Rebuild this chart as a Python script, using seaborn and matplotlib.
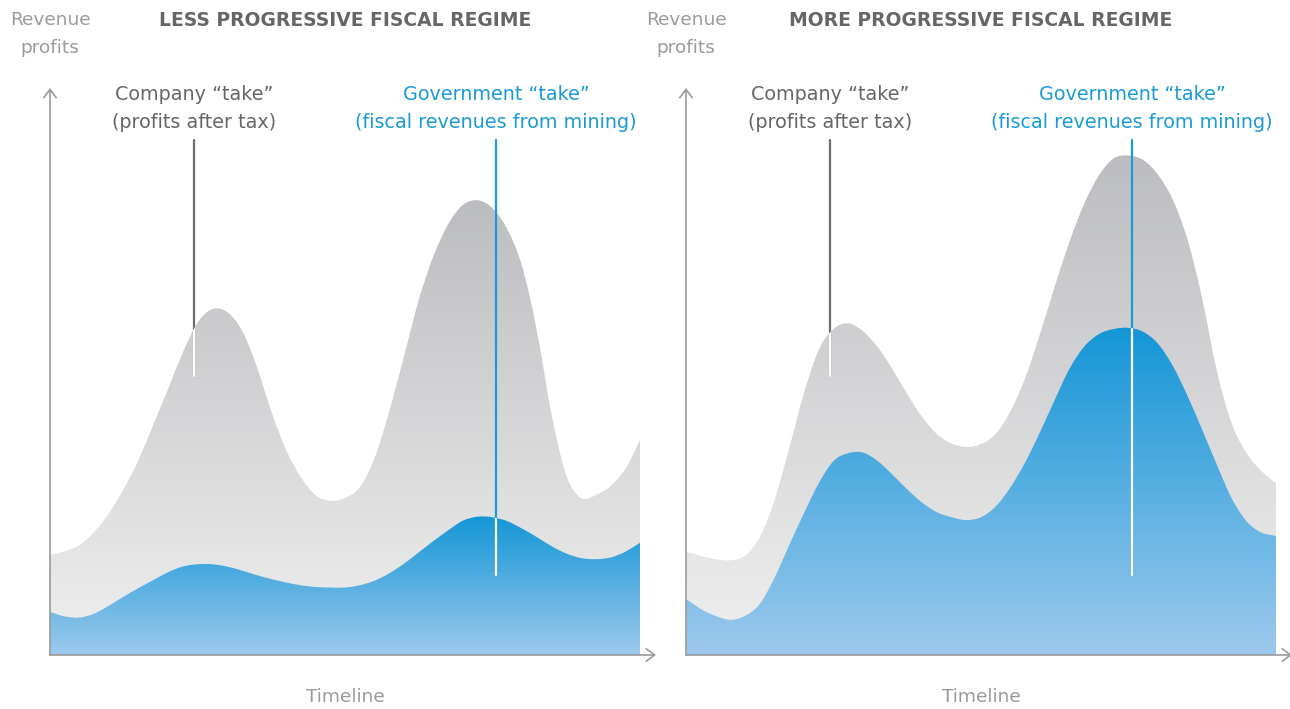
import numpy as np
import matplotlib.pyplot as plt
import seaborn as sns
from matplotlib.colors import LinearSegmentedColormap
from matplotlib.path import Path
from matplotlib.patches import PathPatch

# timeline position (0-100) shared by all series
timeline = np.arange(0, 100.1, 2.5)

# less progressive regime: total revenue and government share
less_total = [17.6, 18.3, 19.4, 21.7, 25.0, 29.3, 34.4, 40.6, 46.9, 53.3,
              58.6, 61.0, 60.5, 57.3, 51.0, 43.0, 36.2, 31.4, 28.2, 27.2,
              27.7, 29.6, 34.7, 43.0, 52.7, 62.6, 70.4, 76.0, 79.4, 80.2,
              78.8, 75.1, 68.6, 57.3, 42.5, 31.7, 27.7, 28.2, 29.8, 32.8, 37.9]
less_government = [7.6, 6.8, 6.6, 7.3, 8.7, 10.3, 11.8, 13.2, 14.6, 15.6,
                   16.0, 16.0, 15.6, 14.9, 14.1, 13.4, 12.8, 12.3, 12.0, 11.9,
                   11.9, 12.3, 13.1, 14.4, 16.1, 18.1, 20.1, 22.0, 23.7, 24.4,
                   24.3, 23.6, 22.3, 20.8, 19.2, 17.9, 17.1, 16.9, 17.2, 18.2, 19.8]

# more progressive regime
more_total = [18.2, 17.5, 16.9, 16.7, 17.5, 20.8, 27.3, 36.5, 46.2, 53.8,
              57.5, 58.5, 57.1, 54.3, 50.4, 46.0, 42.0, 39.0, 37.3, 36.7,
              37.2, 39.0, 43.0, 48.9, 56.6, 65.0, 72.9, 79.6, 84.6, 87.6,
              88.1, 87.3, 84.7, 80.3, 73.3, 62.8, 50.0, 40.8, 35.6, 32.5, 30.3]
more_government = [9.9, 8.1, 6.9, 6.2, 6.9, 9.0, 13.6, 19.4, 25.0, 30.3,
                   34.2, 35.6, 35.7, 34.2, 31.8, 29.2, 26.9, 25.2, 24.3, 23.8,
                   24.3, 26.2, 29.6, 34.0, 39.3, 45.0, 50.5, 54.4, 56.6, 57.5,
                   57.7, 57.0, 54.9, 51.0, 45.7, 39.7, 33.5, 27.6, 23.6, 21.6, 21.0]

panel_titles = ["LESS PROGRESSIVE FISCAL REGIME", "MORE PROGRESSIVE FISCAL REGIME"]
company_lines = ["Company “take”", "(profits after tax)"]
government_lines = ["Government “take”", "(fiscal revenues from mining)"]
y_label_lines = ["Revenue", "profits"]
x_label = "Timeline"

GRAY_TXT = "#9a9a9a"
DARK_TXT = "#666666"
BLUE = "#1a9ad7"

sns.set_style("white")
plt.rcParams["font.family"] = ["DejaVu Sans"]

W, H = 1290, 709
fig = plt.figure(figsize=(W / 100, H / 100), dpi=100)


def px(x, y):
    return x / W, 1 - y / H


def area_path(x, y):
    # smooth curve through the points (catmull-rom as bezier), closed to baseline
    p = np.column_stack([x, y])
    ext = np.vstack([p[0], p, p[-1]])
    verts = [p[0]]
    codes = [Path.MOVETO]
    for i in range(len(p) - 1):
        p0, p1, p2, p3 = ext[i], ext[i + 1], ext[i + 2], ext[i + 3]
        verts += [p1 + (p2 - p0) / 6, p2 - (p3 - p1) / 6, p2]
        codes += [Path.CURVE4] * 3
    verts += [(x[-1], 0), (x[0], 0), p[0]]
    codes += [Path.LINETO, Path.LINETO, Path.CLOSEPOLY]
    return Path(np.array(verts), codes)


def gradient_area(ax, x, y, top_color, bottom_color, zorder):
    path = area_path(np.asarray(x, float), np.asarray(y, float))
    patch = PathPatch(path, facecolor="none", edgecolor="none", transform=ax.transData)
    ax.add_patch(patch)
    cmap = LinearSegmentedColormap.from_list("grad", [bottom_color, top_color])
    grad = np.linspace(0, 1, 256).reshape(-1, 1)
    im = ax.imshow(grad, extent=[x[0], x[-1], 0, max(y)], origin="lower",
                   aspect="auto", cmap=cmap, zorder=zorder, interpolation="bilinear")
    im.set_clip_path(patch)
    return patch


def leader(ax, t, top, bottom, color, clip_patch):
    sns.lineplot(x=[t, t], y=[top, bottom], orient="y", color=color,
                 lw=1.6, ax=ax, zorder=5)
    sns.lineplot(x=[t, t], y=[top, bottom], orient="y", color="white",
                 lw=1.6, ax=ax, zorder=6)
    ax.lines[-1].set_clip_path(clip_patch)


def draw_panel(left_px, total, government, title):
    ax = fig.add_axes([left_px / W, 54 / H, 590 / W, 567 / H])
    gray_patch = gradient_area(ax, timeline, total, "#bcbdc0", "#f0f0f0", 2)
    blue_patch = gradient_area(ax, timeline, government, "#1496d6", "#9dc9ed", 3)

    leader(ax, 24.4, 90.8, 49.2, "#6d6d6d", gray_patch)
    leader(ax, 75.6, 90.8, 14.1, BLUE, blue_patch)

    ax.set_xlim(0, 100)
    ax.set_ylim(0, 100)
    ax.set_xticks([])
    ax.set_yticks([])
    ax.set_xlabel("")
    ax.set_ylabel("")
    for s in ax.spines.values():
        s.set_visible(False)

    arrow = dict(arrowstyle="->,head_length=0.6,head_width=0.45",
                 color="#9a9a9a", lw=1.2, shrinkA=0, shrinkB=0)
    ax.annotate("", xy=(0, 1.0), xytext=(0, 0), xycoords="axes fraction",
                arrowprops=arrow, annotation_clip=False, zorder=8)
    ax.annotate("", xy=(1.027, 0), xytext=(0, 0), xycoords="axes fraction",
                arrowprops=arrow, annotation_clip=False, zorder=8)

    # texts
    cx = left_px + 295
    fig.text(*px(cx, 20), title, ha="center", va="center",
             fontsize=13.5, fontweight="bold", color="#666666")
    fig.text(*px(left_px, 20), y_label_lines[0], ha="center", va="center",
             fontsize=13.3, color=GRAY_TXT)
    fig.text(*px(left_px, 48), y_label_lines[1], ha="center", va="center",
             fontsize=13.3, color=GRAY_TXT)
    fig.text(*px(cx, 697), x_label, ha="center", va="center",
             fontsize=13.3, color=GRAY_TXT)
    cxc = left_px + 144
    cxg = left_px + 446
    for i, y in enumerate([94, 122]):
        fig.text(*px(cxc, y), company_lines[i], ha="center", va="center",
                 fontsize=13.8, color=DARK_TXT)
        fig.text(*px(cxg, y), government_lines[i], ha="center", va="center",
                 fontsize=13.8, color=BLUE)


draw_panel(50, less_total, less_government, panel_titles[0])
draw_panel(686, more_total, more_government, panel_titles[1])

fig.savefig("out.png", dpi=100)
